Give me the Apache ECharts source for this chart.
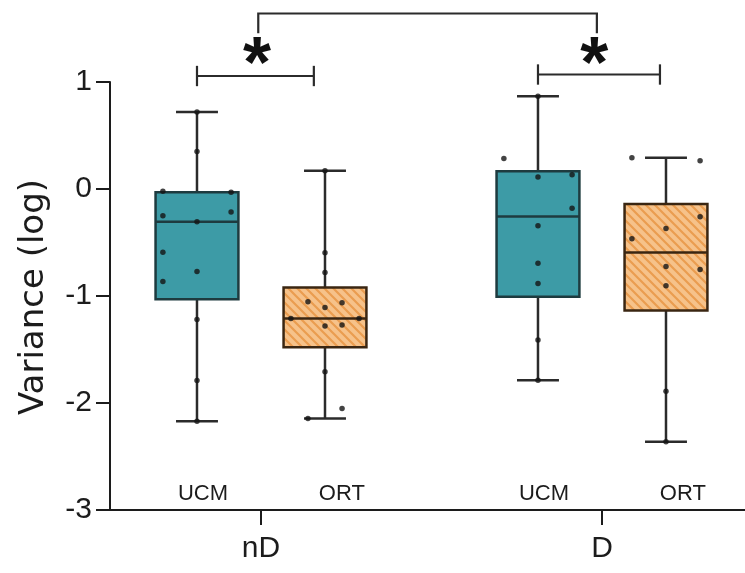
<!DOCTYPE html>
<html>
<head>
<meta charset="utf-8">
<script src="https://cdn.jsdelivr.net/npm/echarts@6/dist/echarts.min.js"></script>
<style>
  html, body { margin: 0; padding: 0; background: #ffffff; }
  #chart { width: 745px; height: 573px; }
</style>
</head>
<body>
<div id="chart"></div>
<script>
// Conditions along the x axis and the two methods compared within each
const groups = ['nD', 'D'];
const methods = ['UCM', 'ORT'];

// Box summaries per condition: [min, Q1, median, Q3, max]
const boxUCM = [[-2.17, -1.03, -0.305, -0.03, 0.72], [-1.788, -1.007, -0.256, 0.167, 0.867]];
const boxORT = [[-2.145, -1.48, -1.21, -0.92, 0.17], [-2.363, -1.135, -0.594, -0.14, 0.291]];

// Individual observations (log variance)
const nD_UCM = [0.72, 0.35, -0.02, -0.03, -0.215, -0.25, -0.305, -0.59, -0.77, -0.865, -1.22, -1.79, -2.17];
const nD_ORT = [0.17, -0.595, -0.78, -1.054, -1.063, -1.107, -1.21, -1.21, -1.272, -1.28, -1.707, -2.052, -2.145];
const D_UCM = [0.867, 0.285, 0.133, 0.111, -0.181, -0.343, -0.694, -0.883, -1.412, -1.788];
const D_ORT = [0.291, 0.263, -0.259, -0.368, -0.464, -0.725, -0.753, -0.905, -1.89, -2.363];

const yTicks = [-3, -2, -1, 0, 1];

// ---- layout ----
const METHOD_OFFSET = 0.1877;   // box centre distance from the condition tick
const BOX_W = 0.243;
const CAP_W = 0.123;
const JITTER_STEP = 0.05;
const LABEL_OFFSET = [-0.17, 0.237];
// horizontal column of each dot inside its box
const jitter = {
  nD_UCM: [0, 0, -2, 2, 2, -2, 0, -2, 0, -2, 0, 0, 0],
  nD_ORT: [0, 0, 0, -1, 1, 0, -2, 2, 1, 0, 0, 1, -1],
  D_UCM: [0, -2, 2, 0, 2, 0, 0, 0, 0, 0],
  D_ORT: [-2, 2, 2, 0, -2, 0, 2, 0, 0, 0]
};

const FONT = "'Liberation Sans', Arial, sans-serif";
const TITLE_FONT = "'DejaVu Sans', 'Liberation Sans', sans-serif";
const INK = '#1c1c1c';
const TEAL = '#3d9ba6';

function hatchPattern() {
  const c = document.createElement('canvas');
  c.width = 9; c.height = 9;
  const g = c.getContext('2d');
  g.fillStyle = '#f6c28a';
  g.fillRect(0, 0, 9, 9);
  g.strokeStyle = '#ea9d50';
  g.lineWidth = 2.2;
  g.beginPath();
  g.moveTo(-4.5, -4.5); g.lineTo(13.5, 13.5);
  g.moveTo(-4.5, 4.5); g.lineTo(4.5, 13.5);
  g.moveTo(4.5, -4.5); g.lineTo(13.5, 4.5);
  g.stroke();
  return c;
}
const ORANGE_FILL = { image: hatchPattern(), repeat: 'repeat' };

function boxData(stats, side) {
  return stats.map((s, gi) => [gi + side * METHOD_OFFSET].concat(s));
}

function boxSeries(stats, side, fill, border) {
  return {
    type: 'custom',
    data: boxData(stats, side),
    encode: { x: 0, y: [1, 2, 3, 4, 5] },
    z: 2,
    renderItem: function (params, api) {
      const x = api.value(0);
      const pMin = api.coord([x, api.value(1)]);
      const pQ1 = api.coord([x, api.value(2)]);
      const pMed = api.coord([x, api.value(3)]);
      const pQ3 = api.coord([x, api.value(4)]);
      const pMax = api.coord([x, api.value(5)]);
      const half = api.size([BOX_W, 0])[0] / 2;
      const cap = api.size([CAP_W, 0])[0] / 2;
      const cx = pMed[0];
      const ln = { stroke: '#2b2b2b', lineWidth: 2.5 };
      return {
        type: 'group',
        children: [
          { type: 'line', shape: { x1: cx, y1: pQ3[1], x2: cx, y2: pMax[1] }, style: ln },
          { type: 'line', shape: { x1: cx, y1: pQ1[1], x2: cx, y2: pMin[1] }, style: ln },
          { type: 'line', shape: { x1: cx - cap, y1: pMax[1], x2: cx + cap, y2: pMax[1] }, style: ln },
          { type: 'line', shape: { x1: cx - cap, y1: pMin[1], x2: cx + cap, y2: pMin[1] }, style: ln },
          { type: 'rect', shape: { x: cx - half, y: pQ3[1], width: half * 2, height: pQ1[1] - pQ3[1] },
            style: { fill: fill, stroke: border, lineWidth: 2.5 } },
          { type: 'line', shape: { x1: cx - half, y1: pMed[1], x2: cx + half, y2: pMed[1] },
            style: { stroke: border, lineWidth: 2.5 } }
        ]
      };
    }
  };
}

function dotData(values, gi, side, cols) {
  return values.map((v, i) => [gi + side * METHOD_OFFSET + cols[i] * JITTER_STEP, v]);
}

const dots = []
  .concat(dotData(nD_UCM, 0, -1, jitter.nD_UCM))
  .concat(dotData(nD_ORT, 0, 1, jitter.nD_ORT))
  .concat(dotData(D_UCM, 1, -1, jitter.D_UCM))
  .concat(dotData(D_ORT, 1, 1, jitter.D_ORT));

// Method names written just above the x axis
const methodLabels = [];
groups.forEach((g, gi) => methods.forEach((m, mi) => methodLabels.push([gi + LABEL_OFFSET[mi], -2.85, mi])));

// Significance brackets: [x1, x2, y, legDrop]
const brackets = [
  [-METHOD_OFFSET, 0.155, 1.056, 0],
  [1 - METHOD_OFFSET, 1.17, 1.07, 0],
  [-0.008, 0.985, 1.64, 0.185]
];
const stars = [[-0.012, 1.135], [0.977, 1.135]];

const chart = echarts.init(document.getElementById('chart'), null, { renderer: 'canvas' });
chart.setOption({
  animation: false,
  backgroundColor: '#ffffff',
  grid: { left: 110, right: 0, top: 82, bottom: 63, containLabel: false, outerBoundsMode: 'none' },
  xAxis: {
    type: 'value',
    min: -0.4428,
    max: 1.4194,
    splitLine: { show: false },
    axisLine: { show: true, onZero: false, lineStyle: { color: INK, width: 2 } },
    axisTick: { show: true, customValues: [0, 1], length: 15, lineStyle: { color: INK, width: 2 } },
    axisLabel: {
      customValues: [0, 1], formatter: v => groups[Math.round(v)],
      fontSize: 30, color: INK, fontFamily: FONT, margin: 24
    }
  },
  yAxis: {
    type: 'value',
    min: -3,
    max: 1,
    interval: 1,
    splitLine: { show: false },
    axisLine: { show: true, onZero: false, lineStyle: { color: INK, width: 2 } },
    axisTick: { show: true, length: 14, lineStyle: { color: INK, width: 2 } },
    axisLabel: { fontSize: 30, color: INK, fontFamily: FONT, margin: 18,
      customValues: yTicks, formatter: v => String(v) }
  },
  graphic: [{
    type: 'text', x: 34, y: 297, rotation: Math.PI / 2,
    style: { text: 'Variance (log)', font: '34px ' + TITLE_FONT, fill: INK, align: 'center', verticalAlign: 'middle' }
  }],
  series: [
    boxSeries(boxUCM, -1, TEAL, '#1e3b3f'),
    boxSeries(boxORT, 1, ORANGE_FILL, '#3a2612'),
    {
      type: 'scatter',
      data: dots,
      symbol: 'circle',
      symbolSize: 5.5,
      itemStyle: { color: '#141414' },
      z: 5
    },
    {
      type: 'custom',
      data: methodLabels,
      clip: false,
      z: 6,
      renderItem: function (params, api) {
        const p = api.coord([api.value(0), api.value(1)]);
        return { type: 'text', x: p[0], y: p[1],
          style: { text: methods[api.value(2)], font: '22px ' + FONT, fill: INK, align: 'center', verticalAlign: 'middle' } };
      }
    },
    {
      type: 'custom',
      data: brackets,
      clip: false,
      z: 6,
      renderItem: function (params, api) {
        const y = api.value(2), drop = api.value(3);
        const a = api.coord([api.value(0), y]);
        const b = api.coord([api.value(1), y]);
        const st = { stroke: '#2b2b2b', lineWidth: 2.2, fill: null };
        if (drop > 0) {
          const a2 = api.coord([api.value(0), y - drop]);
          return { type: 'polyline', shape: { points: [[a[0], a2[1]], a, b, [b[0], a2[1]]] }, style: st };
        }
        const t = api.size([0, 0.095])[1];
        return { type: 'group', children: [
          { type: 'line', shape: { x1: a[0], y1: a[1], x2: b[0], y2: b[1] }, style: st },
          { type: 'line', shape: { x1: a[0], y1: a[1] - t, x2: a[0], y2: a[1] + t }, style: st },
          { type: 'line', shape: { x1: b[0], y1: b[1] - t, x2: b[0], y2: b[1] + t }, style: st }
        ] };
      }
    },
    {
      type: 'custom',
      data: stars,
      clip: false,
      z: 6,
      renderItem: function (params, api) {
        const p = api.coord([api.value(0), api.value(1)]);
        return { type: 'text', x: p[0], y: p[1],
          style: { text: '*', font: 'bold 72px ' + FONT, fill: '#111', align: 'center', verticalAlign: 'middle' } };
      }
    }
  ]
});
</script>
</body>
</html>
